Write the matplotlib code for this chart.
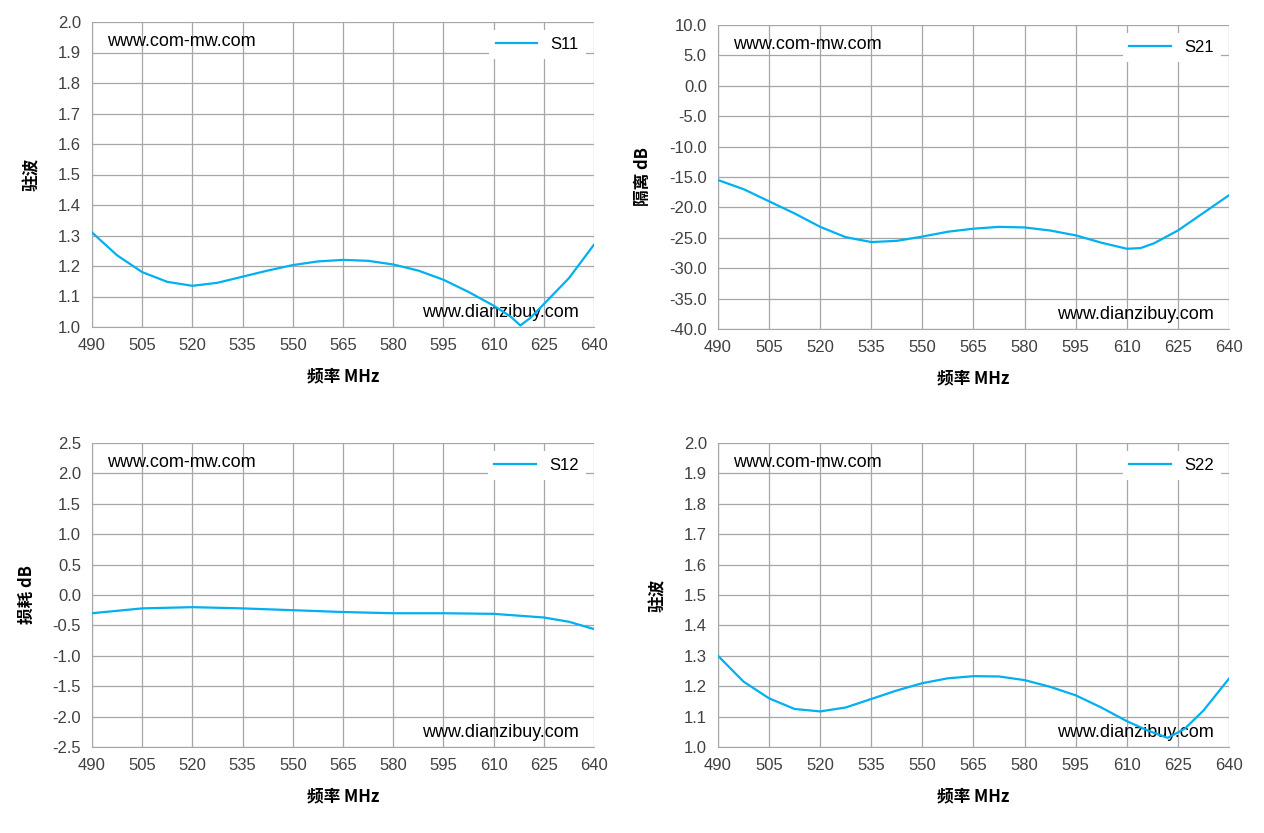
import matplotlib.pyplot as plt
import numpy as np

plt.rcParams['font.family'] = ['Liberation Sans', 'Noto Sans CJK SC', 'DejaVu Sans']

# ---------------- data ----------------
freq_s11 = [490, 497.5, 505, 512.5, 520, 527.5, 535, 542.5, 550, 557.5, 565, 572.5,
            580, 587.5, 595, 602.5, 610, 615, 618, 621, 625, 632.5, 640]
s11 = [1.31, 1.235, 1.18, 1.148, 1.135, 1.145, 1.165, 1.185, 1.203, 1.215, 1.22, 1.217,
       1.205, 1.185, 1.155, 1.115, 1.07, 1.035, 1.005, 1.03, 1.075, 1.16, 1.27]

freq_s21 = [490, 497.5, 505, 512.5, 520, 527.5, 535, 542.5, 550, 557.5, 565, 572.5,
            580, 587.5, 595, 602.5, 610, 614, 618, 625, 632.5, 640]
s21 = [-15.5, -17.0, -19.0, -21.0, -23.2, -24.9, -25.7, -25.5, -24.8, -24.0, -23.5, -23.2,
       -23.3, -23.8, -24.6, -25.8, -26.8, -26.7, -25.9, -23.8, -20.9, -18.0]

freq_s12 = [490, 505, 520, 535, 550, 565, 580, 595, 610, 625, 632.5, 640]
s12 = [-0.3, -0.22, -0.2, -0.22, -0.25, -0.28, -0.3, -0.3, -0.31, -0.37, -0.44, -0.56]

freq_s22 = [490, 497.5, 505, 512.5, 520, 527.5, 535, 542.5, 550, 557.5, 565, 572.5,
            580, 587.5, 595, 602.5, 610, 616, 622, 627, 632.5, 640]
s22 = [1.30, 1.215, 1.16, 1.125, 1.117, 1.13, 1.158, 1.186, 1.21, 1.226, 1.233, 1.232,
       1.22, 1.198, 1.17, 1.13, 1.085, 1.055, 1.03, 1.06, 1.12, 1.225]

xticks = np.arange(490, 641, 15)

panels = [
    (freq_s11, s11, 'S11', '驻波', (1.0, 2.0), 0.1),
    (freq_s21, s21, 'S21', '隔离 dB', (-40, 10), 5),
    (freq_s12, s12, 'S12', '损耗 dB', (-2.5, 2.5), 0.5),
    (freq_s22, s22, 'S22', '驻波', (1.0, 2.0), 0.1),
]

rects = [
    (92, 22, 594, 327),
    (718, 25, 1229, 329),
    (92, 443, 594, 747),
    (718, 443, 1229, 747),
]

cjk = ['Noto Sans CJK SC', 'DejaVu Sans']

W, H = 1264, 833
fig = plt.figure(figsize=(W / 100, H / 100), dpi=100)

for (x, y, name, ylab, ylim, step), (l, t, r, b) in zip(panels, rects):
    ax = fig.add_axes([l / W, 1 - b / H, (r - l) / W, (b - t) / H])
    ax.plot(x, y, color='#00B0F0', linewidth=1.6, label=name, zorder=5)
    ax.set_xlim(490, 640)
    ax.set_ylim(*ylim)
    ax.set_xticks(xticks)
    yt = np.arange(ylim[0], ylim[1] + step / 2, step)
    ax.set_yticks(yt)
    ax.set_yticklabels(['{:.1f}'.format(v) for v in yt])
    ax.grid(color='#A6A6A6', linewidth=0.9)
    ax.set_axisbelow(True)
    for s in ['top', 'right']:
        ax.spines[s].set_visible(False)
    for s in ['left', 'bottom']:
        ax.spines[s].set_color('#A6A6A6')
    ax.tick_params(length=0, labelsize=12, colors='#404040', pad=8)
    ax.set_xlabel('频率 MHz', fontsize=12, fontweight='bold', labelpad=10, family=cjk)
    ax.set_ylabel(ylab, fontsize=12, fontweight='bold', labelpad=12, family=cjk)
    ax.text(0.03, 0.965, 'www.com-mw.com', transform=ax.transAxes, fontsize=13, va='top')
    ax.text(0.97, 0.02, 'www.dianzibuy.com', transform=ax.transAxes, fontsize=13,
            va='bottom', ha='right')
    leg = ax.legend(loc='upper right', frameon=True, fontsize=12, fancybox=False,
                    handlelength=2.5, borderaxespad=0.5)
    leg.get_frame().set_edgecolor('none')
    leg.get_frame().set_alpha(1)

fig.savefig('out.png', dpi=100, facecolor='white')
